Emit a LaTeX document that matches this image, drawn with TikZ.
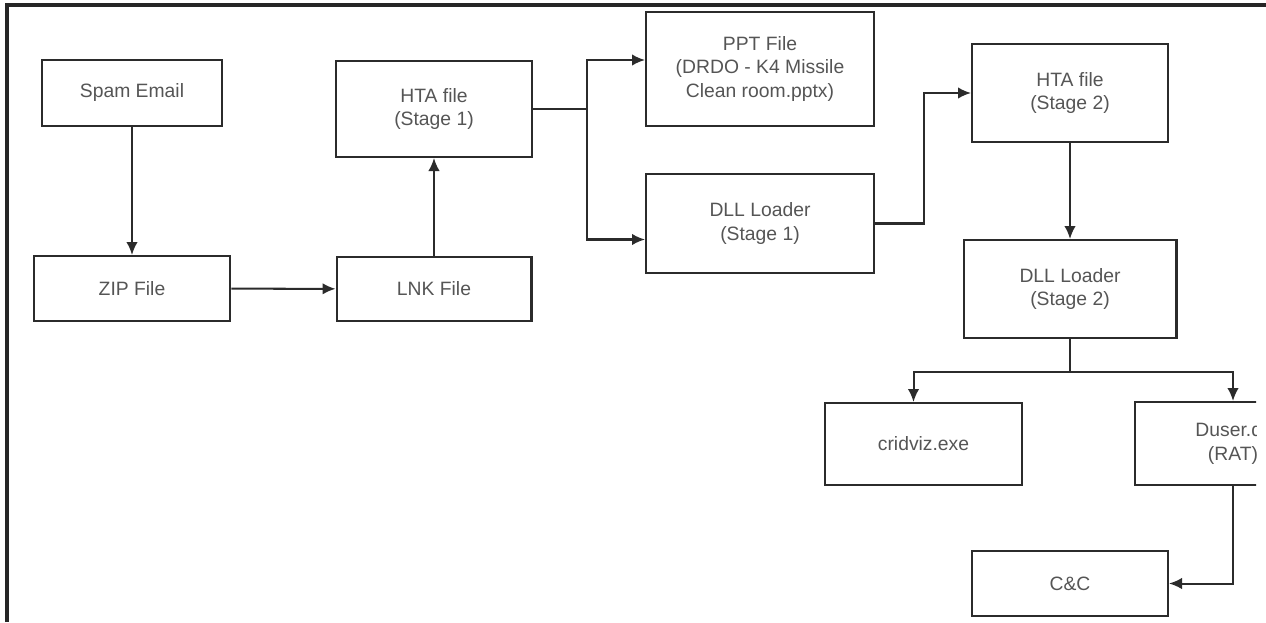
\documentclass[tikz,border=0pt]{standalone}
\usepackage{fontspec}
\setmainfont{Liberation Sans}
\usetikzlibrary{arrows.meta,positioning}
\definecolor{txtgray}{HTML}{555555}
\definecolor{linegray}{HTML}{2b2b2b}

\begin{document}
\begin{tikzpicture}[x=0.02cm,y=-0.02cm,font=\fontsize{11}{13.3}\selectfont,>={Latex[length=2.6mm,width=2.3mm]},box/.style={draw=linegray,line width=1.15pt,text=txtgray,align=center,inner sep=0pt},link/.style={draw=linegray,line width=1.15pt}]
\useasboundingbox (0,0) rectangle (1266,622);
\draw[line width=1.8pt,black!85] (7,622) -- (7,5) -- (1266,5);
\begin{scope}
\clip (0,0) rectangle (1256,622);
\node[box,minimum width=3.6cm,minimum height=1.32cm] (spam) at (132,93) {Spam Email};
\node[box,minimum width=3.94cm,minimum height=1.3cm] (zip) at (132,288.5) {ZIP File};
\node[box,minimum width=3.9cm,minimum height=1.28cm] (lnk) at (434,289) {LNK File};
\node[box,minimum width=3.92cm,minimum height=1.92cm] (hta1) at (434,109) {HTA file\\(Stage 1)};
\node[box,minimum width=4.56cm,minimum height=2.28cm] (ppt) at (760,69) {PPT File\\(DRDO - K4 Missile\\Clean room.pptx)};
\node[box,minimum width=4.56cm,minimum height=1.98cm] (dll1) at (760,223.5) {DLL Loader\\(Stage 1)};
\node[box,minimum width=3.92cm,minimum height=1.96cm] (hta2) at (1070,93) {HTA file\\(Stage 2)};
\node[box,minimum width=4.26cm,minimum height=1.96cm] (dll2) at (1070,289) {DLL Loader\\(Stage 2)};
\node[box,minimum width=3.94cm,minimum height=1.64cm] (crid) at (923.5,444) {cridviz.exe};
\node[box,minimum width=3.92cm,minimum height=1.66cm] (duser) at (1233,443.5) {Duser.dll\\(RAT)};
\node[box,minimum width=3.92cm,minimum height=1.3cm] (cc) at (1070,583.5) {C\&C};
% connectors
\draw[link,->] (spam) -- (zip);
\draw[link,->] (zip) -- (lnk);
\draw[link,->] (lnk) -- (hta1);
\draw[link,->] (hta1.east) -- ++(54,0) |- ([yshift=0.18cm]ppt.west);
\draw[link,->] (hta1.east) -- ++(54,0) |- ([yshift=-0.32cm]dll1.west);
\draw[link,->] (dll1.east) -- ++(49,0) |- (hta2.west);
\draw[link,->] (hta2) -- (dll2);
\draw[link] (dll2.south) -- ++(0,33) coordinate (fork);
\draw[link,->] (fork) -| ([xshift=-0.2cm]crid.north);
\draw[link,->] (fork) -| (duser.north);
\draw[link,->] (duser.south) |- (cc.east);
\end{scope}
\end{tikzpicture}
\end{document}
